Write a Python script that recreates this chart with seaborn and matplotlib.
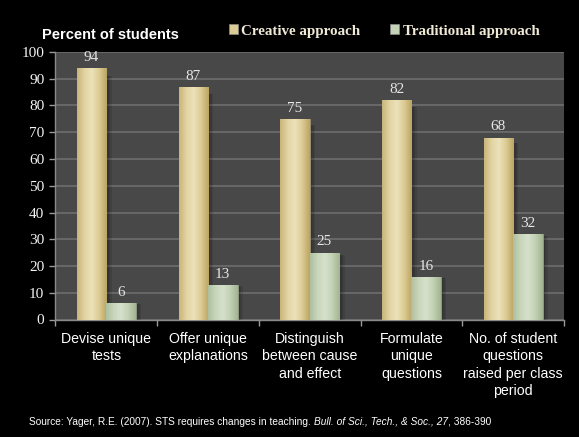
import numpy as np
import pandas as pd
import matplotlib
matplotlib.use("Agg")
import matplotlib.pyplot as plt
from matplotlib.colors import LinearSegmentedColormap
from matplotlib.patches import Rectangle
import seaborn as sns

categories = ["Devise unique\ntests", "Offer unique\nexplanations",
              "Distinguish\nbetween cause\nand effect", "Formulate\nunique\nquestions",
              "No. of student\nquestions\nraised per class\nperiod"]
series = ["Creative approach", "Traditional approach"]
creative = [94, 87, 75, 82, 68]
traditional = [6, 13, 25, 16, 32]
yticks = list(range(0, 101, 10))

df = pd.DataFrame({
    "cat": categories * 2,
    "series": [series[0]] * len(categories) + [series[1]] * len(categories),
    "value": creative + traditional,
})

sns.set_theme(style="dark")
plt.rcParams["font.family"] = ["Liberation Sans", "DejaVu Sans"]

W, H = 579, 437
L, R, T, B = 55.5, 564, 52, 319.5
fig = plt.figure(figsize=(W / 100, H / 100), dpi=100, facecolor="black")
ax = fig.add_axes([L / W, 1 - B / H, (R - L) / W, (B - T) / H])
ax.set_facecolor("#484848")

base_cols = {series[0]: "#dccb94", series[1]: "#c4d2b6"}
sns.barplot(data=df, x="cat", y="value", hue="series", palette=base_cols,
            width=0.58, ax=ax, legend=False, saturation=1, zorder=3)

ax.set_xlim(-0.5, len(categories) - 0.5)
ax.set_ylim(0, 100)
ax.set_yticks(yticks)
ax.set_yticklabels([str(t) for t in yticks], family=["Liberation Serif"], fontsize=11, color="#f2f2f2")
ax.yaxis.grid(True, color="#6e6e6e", linewidth=1.2, zorder=0)
ax.xaxis.grid(False)
ax.set_axisbelow(True)
ax.set_xlabel("")
ax.set_ylabel("")

ax.set_xticks(range(len(categories)))
ax.set_xticklabels(categories, fontsize=10.2, color="white", linespacing=1.3)
ax.tick_params(axis="x", which="major", length=0, pad=9)
ax.set_xticks(np.arange(-0.5, len(categories), 1.0), minor=True)
ax.tick_params(axis="x", which="minor", length=4, color="#9a9a9a", width=1, bottom=True)
ax.tick_params(axis="y", length=4, color="#9a9a9a", width=1, pad=4, left=True)

for s in ["top", "right"]:
    ax.spines[s].set_visible(False)
for s in ["left", "bottom"]:
    ax.spines[s].set_visible(True)
    ax.spines[s].set_color("#8a8a8a")
    ax.spines[s].set_linewidth(1)

cmaps = {
    series[0]: LinearSegmentedColormap.from_list("c", ["#c9b57a", "#e2d4a2", "#ece2bb", "#dccb92", "#bba565"]),
    series[1]: LinearSegmentedColormap.from_list("t", ["#aebf9e", "#c8d6bb", "#d6e1cc", "#c2d1b4", "#a3b493"]),
}
grad = np.linspace(0, 1, 64).reshape(1, -1)

patches = list(ax.patches)
n = len(categories)
for i, p in enumerate(patches):
    s = series[0] if i < n else series[1]
    x0, y0 = p.get_x(), p.get_y()
    w, h = p.get_width(), p.get_height()
    for k in range(3):
        sh = Rectangle((x0 + w * (0.08 + 0.05 * k), y0), w, h * 0.97, facecolor="black",
                       edgecolor="none", alpha=0.10, zorder=2)
        ax.add_patch(sh)
    im = ax.imshow(grad, cmap=cmaps[s], aspect="auto", extent=(x0, x0 + w, y0, y0 + h),
                   zorder=3.5, interpolation="bicubic")
    im.set_clip_path(p)
    p.set_edgecolor("#9c9070" if s == series[0] else "#8f9c86")
    p.set_linewidth(0.6)
    vals = creative if s == series[0] else traditional
    ax.annotate(str(vals[i % n]), (x0 + w / 2, y0 + h), xytext=(0, 3), textcoords="offset points",
                ha="center", va="bottom", fontsize=11, color="#e6e6e6",
                family=["Liberation Serif"], zorder=5)

ax.set_xlim(-0.5, len(categories) - 0.5)
ax.set_ylim(0, 100)

fig.text(42 / W, 1 - 35 / H, "Percent of students", fontsize=10.5, fontweight="bold",
         color="white", va="center", ha="left")

handles = [Rectangle((0, 0), 1, 1, facecolor=base_cols[s], edgecolor="#8a8a8a", linewidth=0.5) for s in series]
leg = fig.legend(handles, series, loc="center left", bbox_to_anchor=(215 / W, 1 - 31 / H),
                 ncol=2, frameon=False, handlelength=0.6, handleheight=0.6, handletextpad=0.25,
                 columnspacing=2.0, prop={"family": "Liberation Serif", "weight": "bold", "size": 10.8})
for t in leg.get_texts():
    t.set_color("#efe9d6")

pieces = [("Source: Yager, R.E. (2007). STS requires changes in teaching. ", "normal"),
          ("Bull. of Sci., Tech., & Soc., 27", "italic"),
          (", 386-390", "normal")]
renderer = fig.canvas.get_renderer()
xpix = 29.0
for txt, style in pieces:
    t = fig.text(xpix / W, 1 - 422 / H, txt, fontsize=7.3, color="white", va="center",
                 ha="left", style=style)
    bb = t.get_window_extent(renderer=renderer)
    xpix = bb.x1

fig.savefig("out.png", dpi=100, facecolor="black")
